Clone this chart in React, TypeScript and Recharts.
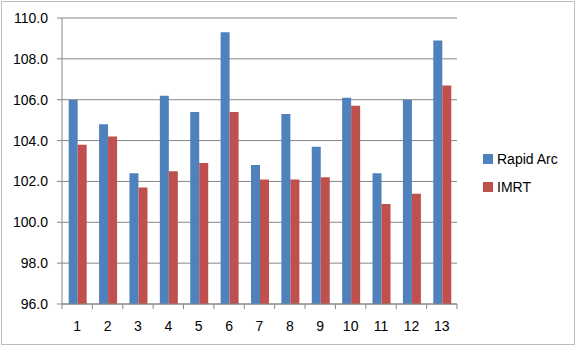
import { BarChart, Bar, XAxis, YAxis, CartesianGrid } from 'recharts';

const CATEGORIES = ['1', '2', '3', '4', '5', '6', '7', '8', '9', '10', '11', '12', '13'];
const RAPID_ARC = [106.0, 104.8, 102.4, 106.2, 105.4, 109.3, 102.8, 105.3, 103.7, 106.1, 102.4, 106.0, 108.9];
const IMRT = [103.8, 104.2, 101.7, 102.5, 102.9, 105.4, 102.1, 102.1, 102.2, 105.7, 100.9, 101.4, 106.7];
const Y_TICKS = [96, 98, 100, 102, 104, 106, 108, 110];

const SERIES = [
  { key: 'rapid', name: 'Rapid Arc', color: '#4F81BD' },
  { key: 'imrt', name: 'IMRT', color: '#C0504D' },
];

const DATA = CATEGORIES.map((c, i) => ({ cat: c, rapid: RAPID_ARC[i], imrt: IMRT[i] }));

const FONT = '"Liberation Sans", Arial, sans-serif';
const AXIS = '#868686';

function XTick(props: any) {
  const { x, y, payload } = props;
  const half = payload.offset ?? 395 / 13 / 2;
  const last = payload.index === CATEGORIES.length - 1;
  return (
    <g>
      <line x1={x - half} x2={x - half} y1={y - 8} y2={y - 3} stroke={AXIS} />
      {last && <line x1={x + half} x2={x + half} y1={y - 8} y2={y - 3} stroke={AXIS} />}
      <text x={x} y={y + 19} textAnchor="middle" fontSize={14} fontFamily={FONT} fill="#000">
        {payload.value}
      </text>
    </g>
  );
}

export default function App() {
  return (
    <div style={{ position: 'absolute', left: 0, top: 0, width: 576, height: 347, background: '#fff' }}>
      <div
        style={{
          position: 'absolute', left: 1, top: 1, width: 572, height: 342,
          border: '1px solid #bdbdbd', pointerEvents: 'none',
        }}
      />
      <BarChart
        width={576}
        height={347}
        data={DATA}
        margin={{ top: 18, right: 119, bottom: 13, left: 12 }}
        barCategoryGap="22%"
        barGap={0}
      >
        <CartesianGrid vertical={false} stroke={AXIS} />
        <XAxis
          dataKey="cat"
          stroke={AXIS}
          tickLine={false}
          tick={<XTick />}
          height={30}
          interval={0}
        />
        <YAxis
          domain={[96, 110]}
          ticks={Y_TICKS}
          interval={0}
          width={50}
          stroke={AXIS}
          tickSize={5}
          tickMargin={9}
          tickFormatter={(v: number) => v.toFixed(1)}
          tick={{ fill: '#000', fontSize: 14, fontFamily: FONT }}
          allowDataOverflow
        />
        {SERIES.map((s) => (
          <Bar key={s.key} dataKey={s.key} name={s.name} fill={s.color} isAnimationActive={false} />
        ))}
      </BarChart>
      <div style={{ position: 'absolute', left: 483, top: 145, fontFamily: FONT, fontSize: 14, color: '#000' }}>
        {SERIES.map((s) => (
          <div key={s.key} style={{ display: 'flex', alignItems: 'center', height: 28 }}>
            <span style={{ width: 10, height: 10, background: s.color, marginRight: 4 }} />
            <span>{s.name}</span>
          </div>
        ))}
      </div>
    </div>
  );
}
